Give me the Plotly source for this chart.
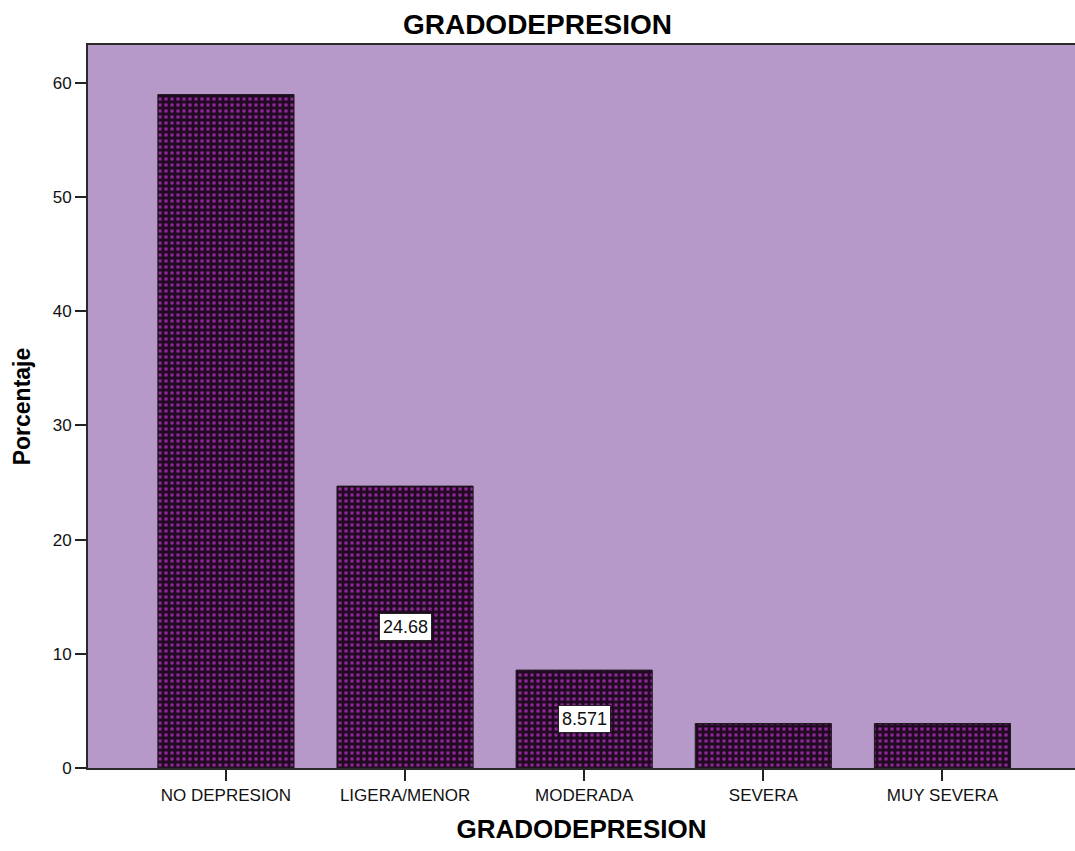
import plotly.graph_objects as go

categories = ["NO DEPRESION", "LIGERA/MENOR", "MODERADA", "SEVERA", "MUY SEVERA"]
percentages = [58.96, 24.68, 8.571, 3.896, 3.896]
labeled = {"LIGERA/MENOR": "24.68", "MODERADA": "8.571"}
y_ticks = [0, 10, 20, 30, 40, 50, 60]

FONT = "Arial, Liberation Sans, sans-serif"

fig = go.Figure()
fig.add_trace(go.Bar(
    x=categories,
    y=percentages,
    width=0.76,
    marker=dict(
        color="#2a0f2a",
        line=dict(color="#1a1a1a", width=1),
        pattern=dict(shape="+", fgcolor="#220a22", bgcolor="#90289a",
                     size=6, solidity=0.72, fillmode="replace"),
    ),
    hoverinfo="x+y",
))

for cat, val in zip(categories, percentages):
    if cat in labeled:
        fig.add_annotation(
            x=cat, y=val / 2, text=labeled[cat], showarrow=False,
            bgcolor="white", bordercolor="#222", borderwidth=1, borderpad=3,
            font=dict(family=FONT, size=18, color="#111"),
        )

fig.update_layout(
    width=1075, height=851,
    margin=dict(l=88, r=0, t=45, b=83),
    paper_bgcolor="white",
    plot_bgcolor="#b699c9",
    font=dict(family=FONT, color="black"),
    title=dict(text="<b>GRADODEPRESION</b>", x=0.5, xanchor="center",
               y=1 - 24 / 851, yanchor="middle",
               font=dict(size=28, family=FONT, color="black")),
    showlegend=False,
)
fig.update_xaxes(
    range=[-0.77, 4.74],
    showline=True, linecolor="#2a2a2a", linewidth=2, mirror=True,
    ticks="outside", ticklen=11, tickcolor="#222", tickwidth=2,
    tickfont=dict(size=17, family=FONT, color="#111"),
    showgrid=False,
    title=dict(text="<b>GRADODEPRESION</b>", standoff=15,
               font=dict(size=26, family=FONT)),
)
fig.update_yaxes(
    range=[0, 63.3],
    tickvals=y_ticks,
    showline=True, linecolor="#2a2a2a", linewidth=2,
    ticks="outside", ticklen=11, tickcolor="#222", tickwidth=2,
    tickfont=dict(size=17, family=FONT, color="#111"),
    showgrid=False, zeroline=False,
    title=dict(text="<b>Porcentaje</b>", standoff=16,
               font=dict(size=23, family=FONT)),
)

fig.write_html("out.html")
